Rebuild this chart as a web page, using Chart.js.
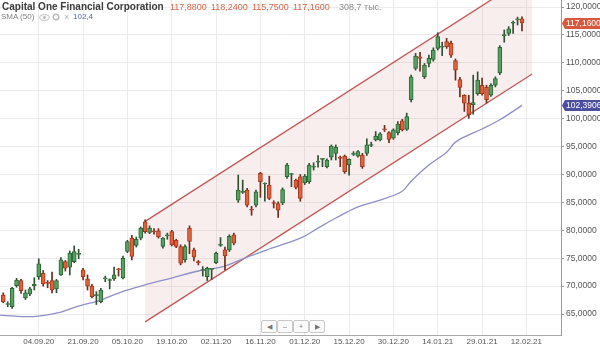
<!DOCTYPE html>
<html><head><meta charset="utf-8">
<script src="https://cdn.jsdelivr.net/npm/chart.js@4.4.1/dist/chart.umd.min.js"></script>
<style>
html,body{margin:0;padding:0;background:#fff;}
#wrap{position:relative;width:600px;height:347px;overflow:hidden;font-family:"Liberation Sans",Arial,sans-serif;}
#c{position:absolute;left:0;top:0;}
.t{position:absolute;white-space:nowrap;line-height:1;}
.nav{position:absolute;top:320px;height:11px;width:14px;border:1px solid #c8c8c8;border-radius:2px;background:#fafafa;color:#777;font-size:7px;line-height:11px;text-align:center;}
</style></head><body>
<div id="wrap">
<canvas id="c" width="600" height="347"></canvas>
<div class="t" style="left:2px;top:2px;font-size:10px;font-weight:bold;color:#3c3c3c">Capital One Financial Corporation</div>
<div id="ohlc"></div>
<div class="t" style="left:1px;top:13px;font-size:8px;color:#808080">SMA (50)</div>
<svg style="position:absolute;left:39px;top:14px" width="11" height="7"><ellipse cx="5.5" cy="3.5" rx="4.8" ry="2.8" fill="none" stroke="#b8b8b8" stroke-width="1"/><circle cx="5.5" cy="3.5" r="1.4" fill="#b8b8b8"/></svg>
<svg style="position:absolute;left:52px;top:13px" width="8" height="8"><circle cx="4" cy="4" r="2.8" fill="none" stroke="#b8b8b8" stroke-width="1.4"/></svg>
<div class="t" style="left:64px;top:13px;font-size:9px;color:#b0b0b0">×</div>
<div id="smaTxt" class="t" style="left:73px;top:13px;font-size:8px;color:#5566aa"></div>
<div class="nav" style="left:261px">&#9664;</div>
<div class="nav" style="left:277px">&#8211;</div>
<div class="nav" style="left:293px">+</div>
<div class="nav" style="left:309px">&#9654;</div>
</div>
<script>
// ---- data ----
const openV = [68.4,66.7,66.3,70.1,71.0,67.9,68.6,70.1,71.7,72.3,
70.7,71.0,69.5,72.0,74.4,73.4,74.4,75.7,72.9,71.3,
70.0,68.3,67.2,71.3,71.0,71.3,73.0,71.45,76.2,78.6,
77.3,78.6,81.5,79.6,79.8,79.9,77.1,79.0,79.75,78.2,
77.1,74.7,80.4,76.5,74.3,72.8,71.7,73.0,74.2,77.3,
76.5,76.5,79.2,85.4,86.8,87.2,83.7,84.5,90.2,88.3,
88.1,84.9,84.8,84.9,89.6,90.0,89.0,89.6,88.5,88.7,
91.3,92.2,92.7,91.4,93.1,93.8,93.0,93.3,91.7,93.6,
93.3,93.5,93.8,95.2,96.2,96.2,98.1,97.5,96.5,97.5,
99.6,98.1,103.4,109.0,111.1,107.5,109.9,110.6,112.6,112.8,
113.8,113.5,110.4,107.0,104.2,102.8,102.5,104.5,106.0,105.6,
104.2,106.0,108.2,114.9,115.3,117.1,117.7,117.88];
const highV = [68.8,67.2,69.8,71.4,71.2,69.3,69.8,71.5,74.9,72.8,
71.0,72.5,71.2,75.1,74.6,76.3,77.2,76.6,73.2,72.0,
70.3,69.0,69.6,71.8,71.3,73.4,73.2,75.4,78.2,79.1,
78.8,80.6,81.9,80.8,80.3,80.3,78.7,79.5,80.0,78.4,
77.4,77.4,80.8,76.8,74.6,73.5,73.4,73.1,76.1,78.7,
77.0,79.2,79.5,89.9,89.0,87.5,84.3,87.2,90.4,88.5,
89.7,85.3,85.1,87.6,92.0,90.2,89.2,90.0,90.0,92.0,
92.1,93.4,92.9,92.8,95.3,95.3,93.3,93.5,92.8,94.1,
94.3,93.8,96.4,95.8,97.7,97.5,98.8,97.7,98.2,99.5,
99.9,101.0,107.8,111.7,111.9,109.9,111.4,112.7,115.4,113.7,
114.4,113.9,110.7,107.4,104.3,104.2,107.8,108.4,107.3,106.0,
106.3,107.5,113.1,115.9,116.5,117.5,118.2,118.24];
const lowV = [67.0,66.3,66.0,69.8,68.7,67.6,68.3,69.3,71.2,70.0,
69.7,68.8,68.8,71.9,72.7,72.0,74.2,74.9,71.1,69.3,
67.9,66.7,67.0,70.8,69.5,71.0,71.8,71.3,76.0,74.7,
77.0,78.3,79.5,79.4,79.3,78.6,76.8,78.4,77.2,76.9,
73.8,74.3,75.8,74.5,73.8,71.8,71.0,71.2,74.0,77.1,
72.9,76.2,77.4,85.0,86.6,84.2,82.7,84.2,85.9,85.2,
85.5,84.0,82.3,84.6,89.3,87.8,87.4,85.2,88.2,88.4,
90.8,91.3,91.4,91.2,92.6,92.6,91.4,90.2,89.9,93.4,
93.1,91.1,93.4,95.0,96.0,96.0,97.7,95.7,96.3,97.1,
97.8,97.9,103.0,108.7,108.5,107.2,109.3,110.3,112.3,111.3,
112.6,111.0,106.9,103.9,101.3,100.06,100.8,104.2,104.2,102.8,
104.0,105.7,107.9,113.7,114.9,115.3,116.8,115.75];
const closeV = [67.15,66.8,69.6,71.1,69.2,68.8,69.5,70.3,74.0,70.4,
70.5,69.3,71.0,74.7,73.2,75.9,76.2,75.8,71.7,70.0,
68.1,68.4,69.3,71.4,71.1,72.0,72.9,75.0,78.0,75.3,
78.4,80.4,79.75,80.4,79.7,78.8,78.6,79.1,77.4,77.1,
74.1,77.1,78.0,75.2,74.2,72.9,73.2,73.1,75.9,77.4,
75.4,78.9,77.7,87.2,86.9,84.5,83.6,86.9,88.7,88.4,
85.7,84.8,83.6,87.3,91.7,90.1,87.7,85.7,89.7,91.7,
91.4,92.3,92.8,92.6,95.1,94.9,92.9,90.5,92.7,93.7,
94.1,91.4,95.3,95.3,96.9,97.3,98.0,96.3,98.0,99.05,
98.0,100.4,107.5,111.2,110.8,109.6,110.8,112.3,114.7,112.9,
112.9,111.4,108.7,105.6,102.8,100.7,102.9,106.9,104.5,103.4,
106.0,107.2,112.8,115.0,116.1,117.2,117.8,117.16];
const volumeText = '308,7 тыс.';
const smaIdx = [-1,4,8,13,17,22,26,32,38,44,50,55,60,67,71,75,80,85,90,92,96,100,102,105,108,112,117];
const smaVal = [64.82,64.55,64.64,65.36,66.43,67.51,68.76,70.2,71.45,72.71,73.6,75.2,76.65,78.6,80.4,82.2,84.2,85.4,87.0,88.8,91.7,94.0,95.8,97.1,98.15,99.8,102.3906];
const channelIdx = [32,119.3];
const channelUpper = [81.6,126.0];
const channelLower = [63.6,108.0];
const tickIdx = [8,18,28,38,48,58,68,78,88,98,108,118];
const tickLabels = ['04.09.20','21.09.20','05.10.20','19.10.20','02.11.20','16.11.20','01.12.20','15.12.20','30.12.20','14.01.21','29.01.21','12.02.21'];
const yTicks = [65,70,75,80,85,90,95,100,105,110,115,120];

// ---- helpers ----
const fmt = v => v.toFixed(4).replace('.', ',');
const n = openV.length;
const up = i => closeV[i] >= openV[i];
const GREEN='#56a063', GREEN_B='#2c6634', RED='#e2613c', RED_B='#a5381b';

// header
const last = n-1;
const ohlcWrap = document.getElementById('ohlc');
[[openV[last],170],[highV[last],211],[lowV[last],252],[closeV[last],293]].forEach(([v,x])=>{
  const d=document.createElement('div'); d.className='t';
  d.style.cssText=`left:${x}px;top:3px;font-size:9px;color:#d2674c`;
  d.textContent=fmt(v); ohlcWrap.appendChild(d);
});
const vd=document.createElement('div'); vd.className='t';
vd.style.cssText='left:339px;top:3px;font-size:9px;color:#8a8a8a';
vd.textContent=volumeText; ohlcWrap.appendChild(vd);
document.getElementById('smaTxt').textContent = smaVal[smaVal.length-1].toFixed(1).replace('.', ',');

const wickData=[], bodyData=[], bodyBg=[], bodyBorder=[], wickBg=[];
for(let i=0;i<n;i++){
  wickData.push({x:i,y:[lowV[i],highV[i]]});
  bodyData.push({x:i,y:[Math.min(openV[i],closeV[i]),Math.max(openV[i],closeV[i])]});
  bodyBg.push(up(i)?GREEN:RED);
  bodyBorder.push(up(i)?GREEN_B:RED_B);
  wickBg.push(up(i)?'#2f4f33':'#6e2a18');
}

const tagPlugin={
  id:'tags',
  afterDraw(chart){
    const ctx=chart.ctx, ys=chart.scales.y, L=chart.chartArea.right;
    const tags=[[closeV[last],'#d9573b'],[smaVal[smaVal.length-1],'#4b4f9e']];
    tags.forEach(([v,col])=>{
      const y=Math.round(ys.getPixelForValue(v))+0.5;
      ctx.save();
      ctx.fillStyle=col;
      ctx.beginPath();
      ctx.moveTo(L+1,y);ctx.lineTo(L+4,y-5.5);ctx.lineTo(600,y-5.5);ctx.lineTo(600,y+5.5);ctx.lineTo(L+4,y+5.5);ctx.closePath();
      ctx.fill();
      ctx.fillStyle='#fff';ctx.font='8.5px "Liberation Sans", Arial, sans-serif';
      ctx.textBaseline='middle';ctx.textAlign='left';
      ctx.fillText(fmt(v),L+5,y+0.5);
      ctx.restore();
    });
  }
};

new Chart(document.getElementById('c'),{
  type:'bar',
  data:{datasets:[
    {type:'line',data:channelIdx.map((x,i)=>({x,y:channelUpper[i]})),borderColor:'#c25656',borderWidth:1.3,pointRadius:0,fill:'+1',backgroundColor:'rgba(196,96,96,0.11)',order:6},
    {type:'line',data:channelIdx.map((x,i)=>({x,y:channelLower[i]})),borderColor:'#c25656',borderWidth:1.3,pointRadius:0,fill:false,order:5},
    {type:'line',data:smaIdx.map((x,i)=>({x,y:smaVal[i]})),borderColor:'#8e8fc6',borderWidth:1.3,pointRadius:0,tension:0.35,fill:false,order:4},
    {data:wickData,backgroundColor:wickBg,borderWidth:0,barThickness:1,grouped:false,order:3},
    {data:bodyData,backgroundColor:bodyBg,borderColor:bodyBorder,borderWidth:1,borderSkipped:false,barThickness:4,minBarLength:1,grouped:false,order:2}
  ]},
  options:{
    responsive:false,animation:false,devicePixelRatio:1,
    layout:{padding:0},
    plugins:{legend:{display:false},tooltip:{enabled:false}},
    scales:{
      x:{type:'linear',min:-0.74,max:125.8,offset:false,
        grid:{color:'#ececec',offset:false,drawTicks:false,lineWidth:1},
        border:{display:true,color:'#aaaaaa'},
        ticks:{autoSkip:false,maxRotation:0,padding:2,color:'#555',font:{size:8,family:'"Liberation Sans", Arial, sans-serif'},
          callback:v=>{const k=tickIdx.indexOf(v);return k>=0?tickLabels[k]:'';}},
        afterBuildTicks:s=>{s.ticks=tickIdx.map(v=>({value:v}));},
        afterFit:s=>{s.height=12;s.paddingLeft=0;s.paddingRight=0;}
      },
      y:{type:'linear',position:'right',min:61.24,max:121.27,beginAtZero:false,
        grid:{color:'#ececec',drawTicks:true,tickLength:3,tickColor:'#999'},
        border:{display:true,color:'#9a9a9a'},
        ticks:{padding:2,color:'#555',font:{size:8.5,family:'"Liberation Sans", Arial, sans-serif'},callback:v=>fmt(v)},
        afterBuildTicks:s=>{s.ticks=yTicks.map(v=>({value:v}));},
        afterFit:s=>{s.width=39;s.paddingTop=0;s.paddingBottom=0;}
      }
    }
  },
  plugins:[tagPlugin]
});
</script>
</body></html>
